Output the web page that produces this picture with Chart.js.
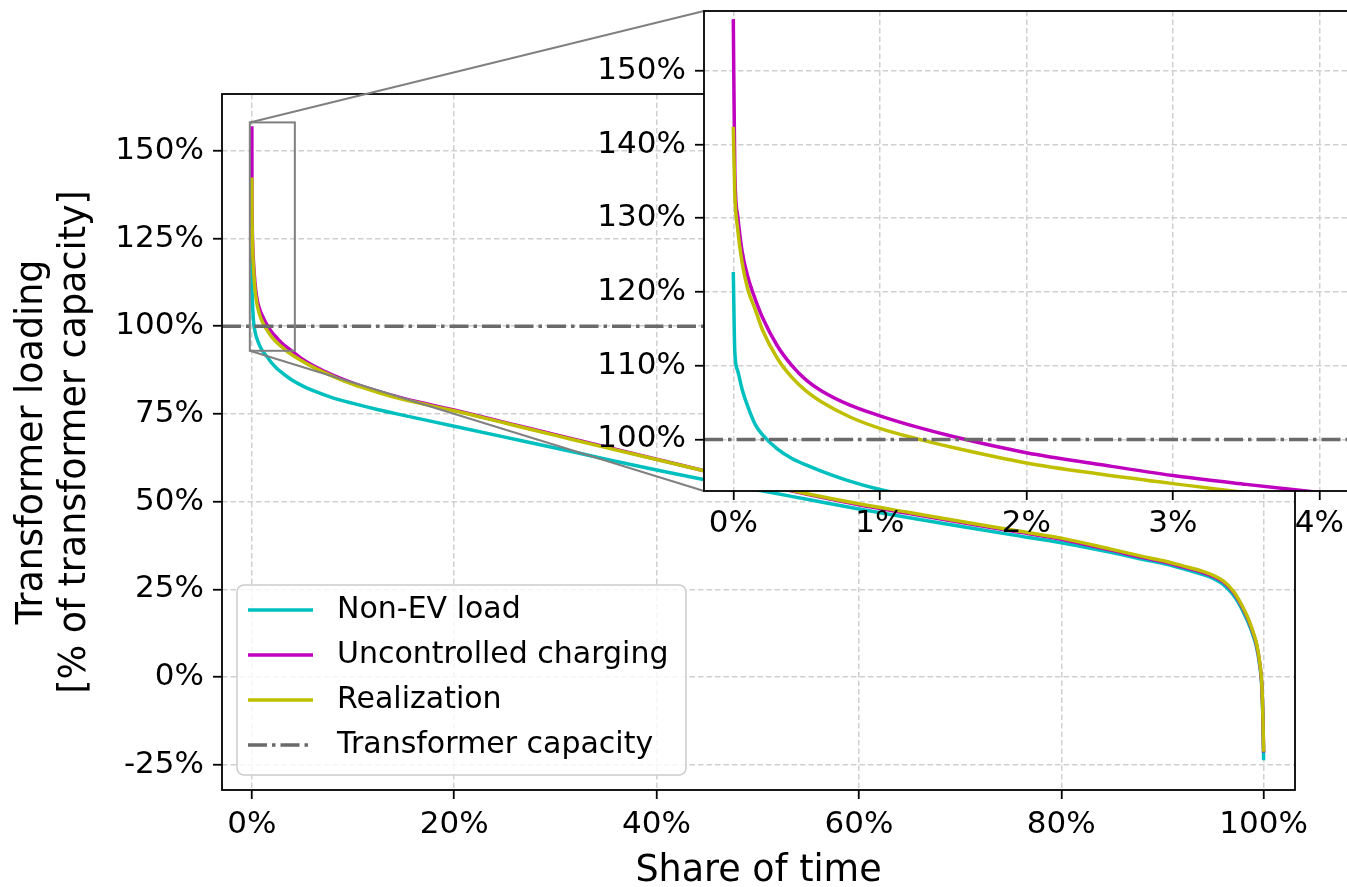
<!DOCTYPE html>
<html>
<head>
<meta charset="utf-8">
<script src="https://cdn.jsdelivr.net/npm/chart.js@4.4.1/dist/chart.umd.min.js"></script>
<style>
html,body{margin:0;padding:0;background:#fff;overflow:hidden;width:1347px;height:887px;}
#wrap{position:relative;width:1347px;height:887px;overflow:hidden;}
#main{position:absolute;left:0;top:0;}
#inset{position:absolute;left:560px;top:0;}
</style>
</head>
<body>
<div id="wrap">
<canvas id="main" width="1347" height="887"></canvas>
<canvas id="inset" width="800" height="560"></canvas>
</div>
<script>
// ---- data (share of time in %, loading in % of transformer capacity) ----
const shareOfTime = [0, 0.01, 0.03, 0.06, 0.1, 0.15, 0.2, 0.3, 0.4, 0.5, 0.6, 0.8, 1.0, 1.25, 1.5, 2.0, 2.5, 3.0, 3.5, 4.0,
  5, 6, 8, 10, 12.5, 15, 20, 25, 30, 35, 40, 45, 50, 55, 60, 65, 70, 75, 80, 85, 88, 90, 92, 94, 95, 96, 97, 97.5, 98, 98.5, 99, 99.3, 99.6, 99.8, 99.9, 100];
const nonEvLoad = [122.7, 112.0, 109.3, 106.8, 104.4, 102.0, 100.6, 98.7, 97.4, 96.5, 95.7, 94.3, 93.2, 92.2, 91.3, 89.4, 87.9, 86.7, 85.6, 84.6,
  83.0, 81.7, 79.6, 78.0, 76.2, 74.6, 71.5, 68.4, 65.3, 62.1, 59.0, 56.1, 53.3, 50.6, 47.9, 45.4, 43.0, 40.6, 38.3, 35.5, 33.6, 32.4, 30.9, 29.2, 28.1, 26.4, 23.4, 21.2, 18.5, 15.4, 11.5, 8.5, 3.5, -2.0, -9.0, -23.7];
const uncontrolledCharging = [157.0, 136.5, 130.3, 125.5, 122.0, 119.0, 116.5, 112.7, 110.0, 108.0, 106.6, 104.6, 103.2, 101.7, 100.4, 98.2, 96.6, 95.1, 93.9, 92.8,
  90.6, 88.9, 86.1, 83.8, 81.4, 79.4, 76.1, 72.6, 69.1, 65.6, 62.1, 58.6, 55.2, 52.0, 49.1, 46.6, 44.1, 41.7, 39.3, 36.1, 34.1, 32.9, 31.4, 29.8, 28.7, 27.1, 24.2, 22.0, 19.3, 16.2, 12.2, 9.2, 4.2, -1.3, -8.3, -21.5];
const realization = [142.4, 133.5, 128.5, 124.0, 120.3, 117.6, 114.8, 111.0, 108.4, 106.5, 105.1, 103.0, 101.5, 100.1, 98.9, 96.8, 95.3, 94.0, 92.8, 91.8,
  90.0, 88.4, 85.7, 83.4, 81.1, 79.1, 75.9, 72.4, 68.9, 65.4, 62.0, 58.6, 55.3, 52.2, 49.4, 46.9, 44.4, 42.0, 39.6, 36.4, 34.4, 33.2, 31.7, 30.1, 29.0, 27.4, 24.5, 22.3, 19.6, 16.5, 12.5, 9.5, 4.5, -1.0, -8.0, -21.3];
const transformerCapacity = 100;
const seriesNames = ['Non-EV load', 'Uncontrolled charging', 'Realization', 'Transformer capacity'];

const mainXTicks = [0, 20, 40, 60, 80, 100];
const mainYTicks = [-25, 0, 25, 50, 75, 100, 125, 150];
const insetXTicks = [0, 1, 2, 3, 4];
const insetYTicks = [100, 110, 120, 130, 140, 150];
const mainXRange = [-2.95, 103.1];
const mainYRange = [-32.2, 166.2];
const insetXRange = [-0.2, 4.25];
const insetYRange = [93.0, 158.1];

// ---- styles ----
Chart.defaults.font.family = "'DejaVu Sans', sans-serif";
Chart.defaults.color = '#000';
const COLORS = ['#00bfbf', '#bf00bf', '#bfbf00', '#6a6a6a'];
const CAP_DASH = [19, 5, 3.5, 5];
const INSET_OFFSET = {left: 560, top: 0};

function pts(arr) { return shareOfTime.map((x, i) => ({x: x, y: arr[i]})); }

function makeDatasets(xRange) {
  const base = {borderWidth: 3.5, pointRadius: 0, pointHoverRadius: 0, fill: false,
    cubicInterpolationMode: 'monotone', clip: 0};
  return [
    Object.assign({}, base, {label: seriesNames[0], data: pts(nonEvLoad), borderColor: COLORS[0], order: 3}),
    Object.assign({}, base, {label: seriesNames[1], data: pts(uncontrolledCharging), borderColor: COLORS[1], order: 2}),
    Object.assign({}, base, {label: seriesNames[2], data: pts(realization), borderColor: COLORS[2], order: 1}),
    Object.assign({}, base, {label: seriesNames[3], data: xRange.map(x => ({x: x, y: transformerCapacity})),
      borderColor: COLORS[3], borderDash: CAP_DASH, borderWidth: 3.5, cubicInterpolationMode: 'default', tension: 0, order: 0})
  ];
}

function axis(range, ticks, position, size, pad, title) {
  const o = {
    type: 'linear', position: position, min: range[0], max: range[1],
    afterBuildTicks: s => { s.ticks = ticks.map(v => ({value: v})); },
    afterFit: s => {
      if (position === 'left') s.width = size; else s.height = size;
      s.paddingTop = 0; s.paddingBottom = 0; s.paddingLeft = 0; s.paddingRight = 0;
    },
    grid: {color: '#d0d0d0', lineWidth: 1.5, drawTicks: true, tickLength: 9, tickColor: '#000', tickWidth: 1.8, tickBorderDash: []},
    border: {display: false, dash: [5.5, 3]},
    ticks: {autoSkip: false, maxRotation: 0, minRotation: 0, color: '#000', font: {size: 31}, padding: pad,
      callback: v => v + '%'}
  };
  if (title) o.title = title;
  return o;
}

function drawLegend(ctx, a, datasets) {
  const w = 449, h = 190;
  const x0 = a.left + 15, y0 = a.bottom - 15 - h;
  ctx.save();
  ctx.beginPath();
  if (ctx.roundRect) ctx.roundRect(x0, y0, w, h, 7); else ctx.rect(x0, y0, w, h);
  ctx.fillStyle = 'rgba(255,255,255,0.8)';
  ctx.fill();
  ctx.strokeStyle = '#cccccc';
  ctx.lineWidth = 1.5;
  ctx.stroke();
  ctx.font = "30px 'DejaVu Sans', sans-serif";
  ctx.textBaseline = 'middle';
  ctx.textAlign = 'left';
  datasets.forEach((d, i) => {
    const yy = y0 + 25 + i * 45;
    ctx.beginPath();
    ctx.setLineDash(d.borderDash || []);
    ctx.strokeStyle = d.borderColor;
    ctx.lineWidth = d.borderWidth;
    ctx.moveTo(x0 + 11, yy);
    ctx.lineTo(x0 + 76, yy);
    ctx.stroke();
    ctx.setLineDash([]);
    ctx.fillStyle = '#000';
    ctx.fillText(d.label, x0 + 100, yy);
  });
  ctx.restore();
}

let insetChart = null;

const insetDecor = {
  id: 'insetDecor',
  beforeDraw(chart) {
    const {ctx, chartArea: a} = chart;
    ctx.save();
    ctx.fillStyle = '#ffffff';
    ctx.fillRect(a.left, a.top, a.right - a.left, a.bottom - a.top);
    ctx.restore();
  },
  afterDatasetsDraw(chart) {
    const {ctx, chartArea: a} = chart;
    ctx.save();
    ctx.setLineDash([]);
    ctx.strokeStyle = '#000';
    ctx.lineWidth = 1.8;
    ctx.strokeRect(a.left, a.top, a.right - a.left, a.bottom - a.top);
    ctx.restore();
  }
};

const mainDecor = {
  id: 'mainDecor',
  afterDatasetsDraw(chart) {
    const {ctx, chartArea: a, scales} = chart;
    const x = scales.x, y = scales.y;
    ctx.save();
    ctx.setLineDash([]);
    ctx.strokeStyle = '#000';
    ctx.lineWidth = 1.8;
    ctx.strokeRect(a.left, a.top, a.right - a.left, a.bottom - a.top);
    // inset indicator rectangle
    const rx1 = x.getPixelForValue(insetXRange[0]), rx2 = x.getPixelForValue(insetXRange[1]);
    const ry1 = y.getPixelForValue(insetYRange[1]), ry2 = y.getPixelForValue(insetYRange[0]);
    ctx.strokeStyle = '#808080';
    ctx.lineWidth = 2;
    ctx.strokeRect(rx1, ry1, rx2 - rx1, ry2 - ry1);
    // connectors to the inset corners
    if (insetChart) {
      const ia = insetChart.chartArea;
      const ix = INSET_OFFSET.left + ia.left;
      ctx.beginPath();
      ctx.moveTo(rx1, ry1); ctx.lineTo(ix, INSET_OFFSET.top + ia.top);
      ctx.moveTo(rx1, ry2); ctx.lineTo(ix, INSET_OFFSET.top + ia.bottom);
      ctx.stroke();
    }
    ctx.restore();
    drawLegend(ctx, a, chart.data.datasets);
  }
};

insetChart = new Chart(document.getElementById('inset'), {
  type: 'line',
  data: {datasets: makeDatasets(insetXRange)},
  options: {
    responsive: false, animation: false, devicePixelRatio: 1,
    layout: {padding: {left: 0, right: 4, top: 11, bottom: 0}},
    plugins: {legend: {display: false}, tooltip: {enabled: false}},
    scales: {
      x: axis(insetXRange, insetXTicks, 'bottom', 69, 5),
      y: axis(insetYRange, insetYTicks, 'left', 144, 9)
    }
  },
  plugins: [insetDecor]
});

const mainChart = new Chart(document.getElementById('main'), {
  type: 'line',
  data: {datasets: makeDatasets(mainXRange)},
  options: {
    responsive: false, animation: false, devicePixelRatio: 1,
    layout: {padding: {left: 0, right: 52, top: 94, bottom: 0}},
    plugins: {legend: {display: false}, tooltip: {enabled: false}},
    scales: {
      x: axis(mainXRange, mainXTicks, 'bottom', 97, 7,
        {display: true, text: 'Share of time', color: '#000', font: {size: 36.5, lineHeight: 0.85}, padding: {top: 0, bottom: 0}}),
      y: axis(mainYRange, mainYTicks, 'left', 222, 9,
        {display: true, text: ['Transformer loading', '[% of transformer capacity]'], color: '#000',
         font: {size: 36.5, lineHeight: 1.17}, padding: {top: 11, bottom: 0}})
    }
  },
  plugins: [mainDecor]
});
</script>
</body>
</html>
